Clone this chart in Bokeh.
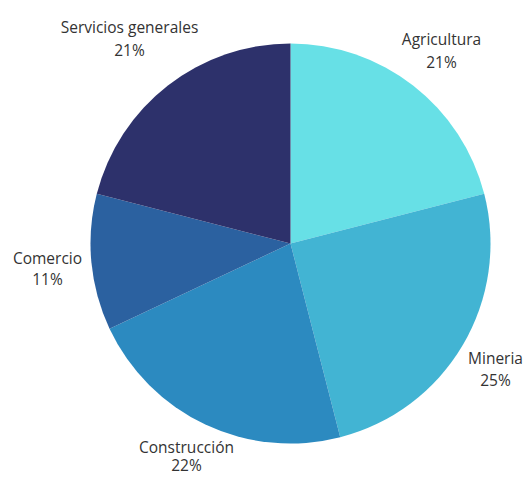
import math
from bokeh.plotting import figure
from bokeh.models import Range1d
from bokeh.core.properties import value
from bokeh.embed import file_html
from bokeh.resources import INLINE

# Data
categories = ["Agricultura", "Mineria", "Construcción", "Comercio", "Servicios generales"]
shares = [21, 25, 22, 11, 21]
colors = ["#67E0E6", "#42B4D3", "#2C8AC0", "#2B61A0", "#2D316B"]

# Layout
W, H = 524, 477
cx, cy, r = 290, H - 243, 200
# label positions (page px, top-left origin): x center, name line y, percent line y
label_x = [441, 495, 186, 47, 129]
name_y = [38, 357, 446, 257, 26]
pct_y = [61, 379, 464, 278, 49]

p = figure(width=W, height=H, output_backend="svg", toolbar_location=None,
           x_range=Range1d(0, W), y_range=Range1d(0, H), min_border=0)
p.axis.visible = False
p.grid.visible = False
p.outline_line_color = None
p.background_fill_color = "white"

total = sum(shares)
cum = 0
starts, ends = [], []
for s in shares:
    starts.append(math.pi / 2 - 2 * math.pi * cum / total)
    cum += s
    ends.append(math.pi / 2 - 2 * math.pi * cum / total)

p.wedge(x=[cx] * len(shares), y=[cy] * len(shares), radius=r,
        start_angle=starts, end_angle=ends, direction="clock",
        fill_color=colors, line_color=None)

ny = [H - y for y in name_y]
py = [H - y for y in pct_y]

p.text(x=label_x, y=ny, text=categories, text_align="center", text_baseline="middle",
       text_font=value("Open Sans"), text_font_size="15.5px", text_color="#333333")
p.text(x=label_x, y=py, text=[f"{s}%" for s in shares], text_align="center",
       text_baseline="middle", text_font=value("Open Sans"), text_font_size="15.5px",
       text_color="#333333")

open("out.html", "w").write(file_html(p, INLINE))
